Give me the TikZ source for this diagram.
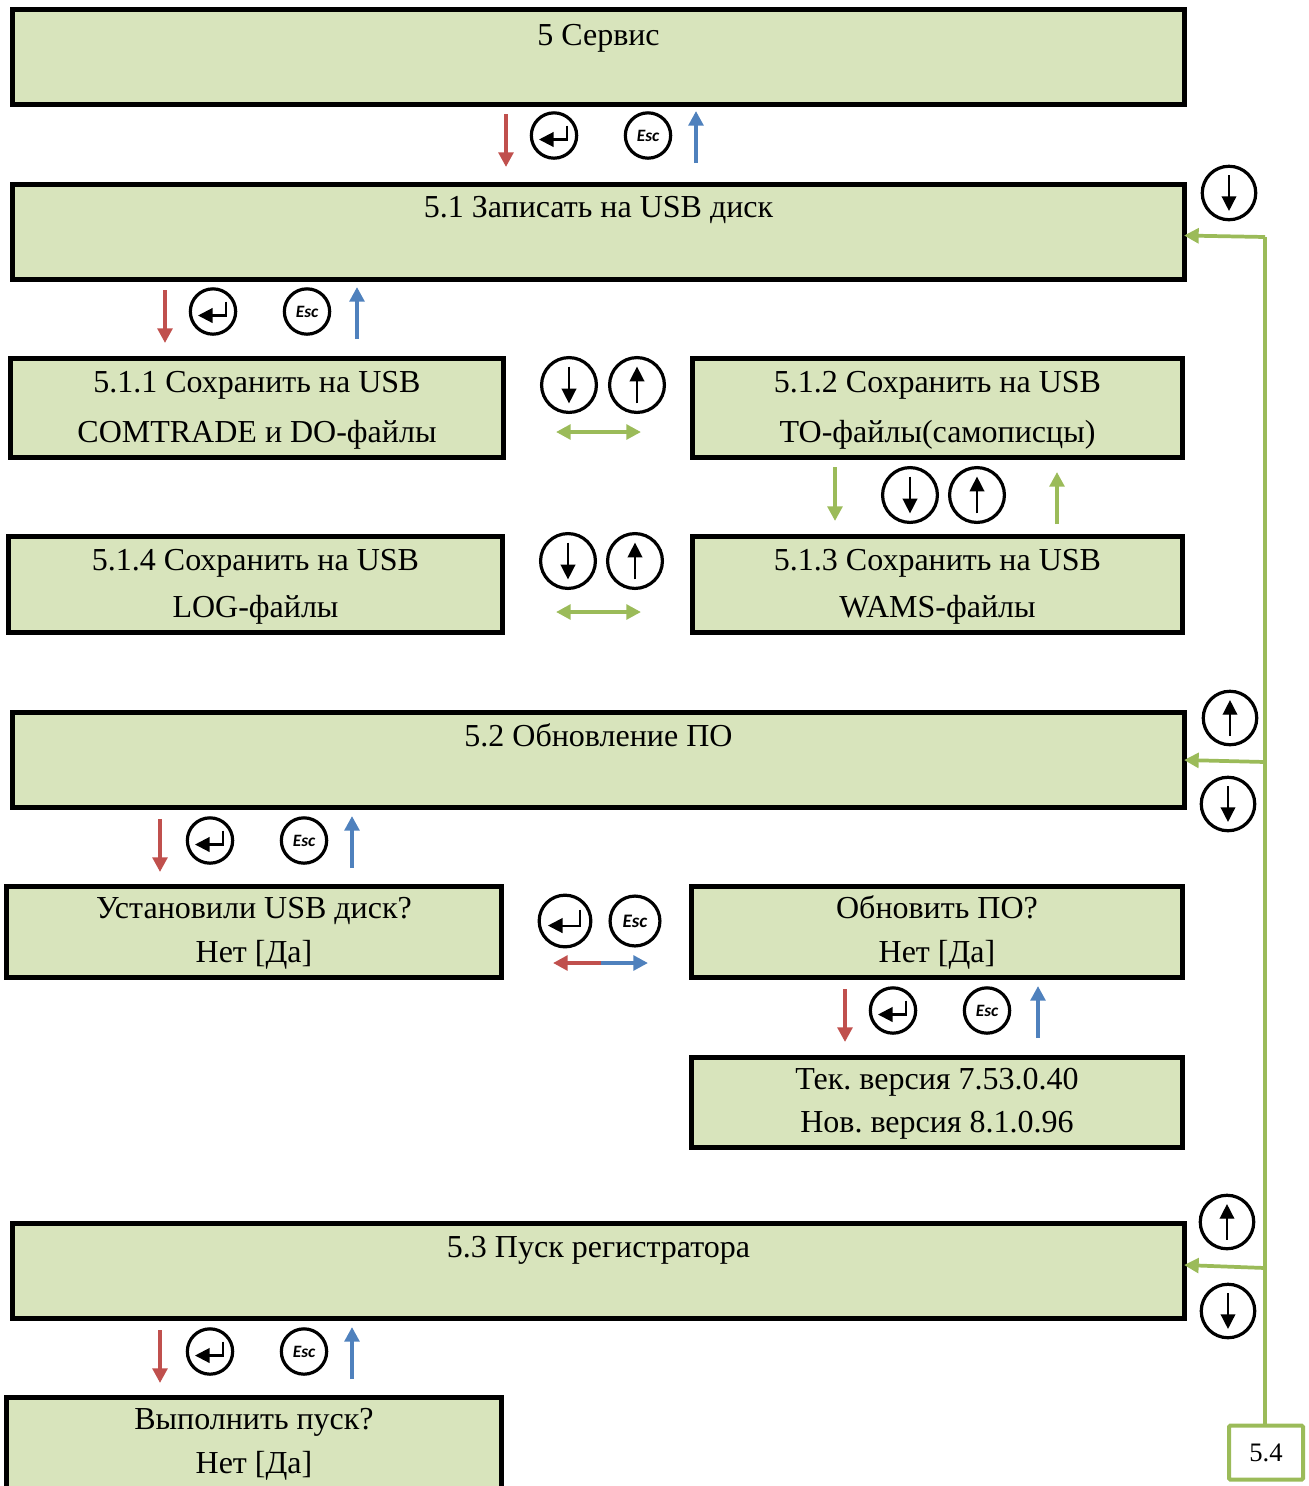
\documentclass[tikz,border=0pt]{standalone}
\usepackage{fontspec}
\setmainfont{Liberation Serif}
\newfontfamily\keyfont{Carlito}
\usepackage{tikz}
\usetikzlibrary{arrows.meta,positioning,calc}

\definecolor{screenfill}{HTML}{D8E4BC}
\definecolor{navred}{HTML}{C0504D}
\definecolor{navblue}{HTML}{4F81BD}
\definecolor{navgreen}{HTML}{9BBB59}

% short strut so that the lines do not push the screen taller
\newcommand{\ts}{\rule[-6.55pt]{0pt}{26pt}}

% round keys: name, centre, scale
\newcommand{\keydown}[3]{%
  \node[keyc,minimum size=#3*34pt] (#1) at (#2) {};
  \draw[keyarr] ($(#1)+(0,-#3*15.2)$) -- ($(#1)+(0,#3*15.2)$);}
\newcommand{\keyup}[3]{%
  \node[keyc,minimum size=#3*34pt] (#1) at (#2) {};
  \draw[keyarr] ($(#1)+(0,#3*15.2)$) -- ($(#1)+(0,-#3*15.2)$);}
\newcommand{\keyenter}[3]{%
  \node[keyc,minimum size=#3*34pt] (#1) at (#2) {};
  \draw[keyarr,line width=1.6pt] ($(#1)+(#3*13,-#3*10)$) -- ($(#1)+(#3*13,#3*4)$) -- ($(#1)+(-#3*15,#3*4)$);}
\newcommand{\keyesc}[3]{%
  \pgfmathsetmacro\escsize{#3*13}
  \node[keyc,minimum size=#3*34pt,font=\keyfont\bfseries\itshape\fontsize{\escsize}{14}\selectfont] (#1) at (#2) {Esc};}

\begin{document}
\begin{tikzpicture}[x=0.75pt,y=-0.75pt,
  screen/.style 2 args={draw=black,line width=3.75pt,fill=screenfill,align=center,inner sep=0pt,
    minimum width=#1*0.75pt,minimum height=#2*0.75pt,font=\fontsize{24}{36}\selectfont\frenchspacing},
  keyc/.style={draw=black,circle,line width=2.4pt,inner sep=0pt},
  keyarr/.style={draw=black,line width=1.1pt,-{Triangle[length=11pt,width=11pt]}},
  redarr/.style={draw=navred,line width=2.8pt,-{Triangle[length=11pt,width=11pt]}},
  bluearr/.style={draw=navblue,line width=2.8pt,-{Triangle[length=11pt,width=11pt]}},
  greenarr/.style={draw=navgreen,line width=2.8pt,-{Triangle[length=11pt,width=11pt]}},
  greenboth/.style={draw=navgreen,line width=2.8pt,{Triangle[length=11pt,width=11pt]}-{Triangle[length=11pt,width=11pt]}},
  tagbox/.style={draw=navgreen,line width=3pt,rounded corners=1pt,inner sep=0pt,
    minimum width=74*0.75pt,minimum height=54*0.75pt,font=\fontsize{20}{24}\selectfont}]
  \useasboundingbox (0,0) rectangle (1309,1486);
  \clip (0,0) rectangle (1309,1486);
  % full width menu screens
  \node[screen={1172}{95}] (s5) at (598.5,57) {\ts 5 Сервис\\[-6pt]\ts};
  \node[screen={1172}{95}] (s51) at (598.5,231.5) {\ts 5.1 Записать на USB диск\\[-1.5pt]\ts};
  \node[screen={1172}{95}] (s52) at (598.5,760) {\ts 5.2 Обновление ПО\\[-3pt]\ts};
  \node[screen={1172}{95}] (s53) at (598.5,1271) {\ts 5.3 Пуск регистратора\\[-3.5pt]\ts};
  % half width screens
  \node[screen={493}{99}] (s511) at (257,408) {\strut 5.1.1 Сохранить на USB\\[1pt]\strut COMTRADE и DO-файлы};
  \node[screen={490}{99}] (s512) at (937.5,408) {\strut 5.1.2 Сохранить на USB\\[1pt]\strut ТО-файлы(самописцы)};
  \node[screen={494}{96}] (s514) at (255.5,584.5) {\strut 5.1.4 Сохранить на USB\\[-1pt]\strut LOG-файлы};
  \node[screen={490}{96}] (s513) at (937.5,584.5) {\strut 5.1.3 Сохранить на USB\\[-1pt]\strut WAMS-файлы};
  \node[screen={495}{91}] (inst) at (254,932) {\ts Установили USB диск?\\[-3pt]\ts Нет [Да]};
  \node[screen={491}{91}] (upd) at (937,932) {\ts Обновить ПО?\\[-3pt]\ts Нет [Да]};
  \node[screen={491}{90}] (ver) at (937,1102.5) {\ts Тек. версия 7.53.0.40\\[-3.5pt]\ts Нов. версия 8.1.0.96};
  \node[screen={495}{91}] (run) at (254,1443) {\ts Выполнить пуск?\\[-3pt]\ts Нет [Да]};
  % enter / esc rows between the screens
  \foreach \n/\rx/\ry/\ex/\sx/\bx in {a/506/114/554/648/696,b/165/290/213/307/357,
      c/160/819/210/304/352,d/845/989/893/987/1038,e/160/1330/210/304/352} {
    \coordinate (\n r1) at (\rx,\ry);
    \coordinate (\n r2) at (\rx,\ry+53);
    \coordinate (\n b1) at (\bx,\ry+49);
    \coordinate (\n b2) at (\bx,\ry-3);
    \draw[redarr] (\n r1) -- (\n r2);
    \draw[bluearr] (\n b1) -- (\n b2);
    \keyenter{\n ent}{\ex,\ry+21.5}{1}
    \keyesc{\n esc}{\sx,\ry+21.5}{1}
  }
  % keys between the 5.1.x screens
  \keydown{kd1}{569,385}{1.21}
  \keyup{ku1}{637,385}{1.21}
  \coordinate (g1a) at (556,432);
  \coordinate (g1b) at (641,432);
  \draw[greenboth] (g1a) -- (g1b);
  \keydown{kd2}{910,495}{1.21}
  \keyup{ku2}{977,495}{1.21}
  \coordinate (g2a) at (835,467);
  \coordinate (g2b) at (835,521);
  \coordinate (g3a) at (1057,524);
  \coordinate (g3b) at (1057,472);
  \draw[greenarr] (g2a) -- (g2b);
  \draw[greenarr] (g3a) -- (g3b);
  \keydown{kd3}{568,561}{1.21}
  \keyup{ku3}{635,561}{1.21}
  \coordinate (g4a) at (556,612);
  \coordinate (g4b) at (641,612);
  \draw[greenboth] (g4a) -- (g4b);
  % confirm step of the update
  \keyenter{kent}{565,921}{1.14}
  \keyesc{kesc}{635,921}{1.1}
  \coordinate (m1) at (601,963);
  \coordinate (m2) at (553,963);
  \coordinate (m3) at (648,963);
  \draw[redarr] (m1) -- (m2);
  \draw[bluearr] (m1) -- (m3);
  % side bus to the 5.4 box
  \node[tagbox] (s54) at (1266,1452.5) {5.4};
  \coordinate (j1) at (1265,237);
  \coordinate (j2) at (1265,762);
  \coordinate (j3) at (1265,1268);
  \draw[draw=navgreen,line width=3pt] (s54.north -| j1) -- (j1);
  \draw[greenarr] (j1) -- ($(s51.east)+(-3,4)$);
  \draw[greenarr] (j2) -- ($(s52.east)+(-3,0)$);
  \draw[greenarr] (j3) -- ($(s53.east)+(-3,-6)$);
  \keydown{kn1}{1229,193}{1.18}
  \keyup{kn2}{1230,718}{1.18}
  \keydown{kn3}{1228,804}{1.18}
  \keyup{kn4}{1227,1222}{1.18}
  \keydown{kn5}{1228,1311}{1.18}
\end{tikzpicture}
\end{document}
